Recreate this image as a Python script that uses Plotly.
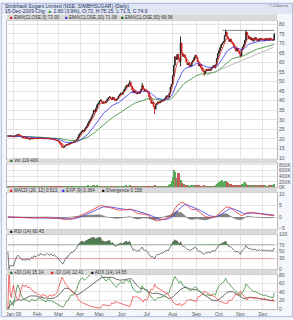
import numpy as np
import pandas as pd
import plotly.graph_objects as go

# ---------------- data ----------------
holidays = ['2008-12-25', '2009-01-08', '2009-02-23', '2009-03-10', '2009-03-11', '2009-03-26',
            '2009-04-03', '2009-04-07', '2009-04-10', '2009-04-14', '2009-04-30', '2009-05-01',
            '2009-09-21', '2009-09-28', '2009-10-02', '2009-10-13', '2009-10-19', '2009-11-02']
dates = pd.bdate_range('2008-12-24', '2009-12-15', freq='C', holidays=holidays)

closes = [
    21.5, 21.3, 21.6, 21.4, 21.2,
    21.0, 21.4, 21.8, 22.1, 22.3, 21.9, 21.5, 21.0, 20.6, 20.8, 20.4, 20.2, 20.5, 20.0, 19.8, 20.1, 20.3, 20.0, 20.4, 20.2, 20.1,
    20.3, 20.5, 20.2, 20.6, 20.4, 20.1, 20.3, 20.0, 20.2, 20.4, 20.1, 19.9, 20.2, 19.8, 19.6, 19.8, 19.4, 19.2, 19.0,
    18.4, 17.6, 16.8, 16.0, 15.6, 16.2, 16.6, 17.0, 16.8, 17.4, 17.8, 18.2, 18.0, 18.4, 18.8, 19.2, 19.6, 20.8, 22.2,
    23.0, 23.8, 24.5, 24.0, 25.2, 26.0, 26.8, 28.2, 29.4, 30.4, 31.5, 33.0, 35.0, 34.2, 36.0, 37.8, 38.6,
    39.8, 40.4, 39.2, 38.6, 39.4, 38.8, 39.6, 40.8, 41.6, 42.0, 41.2, 40.6, 41.8, 40.8, 40.0, 40.6, 41.2, 42.4, 43.2, 44.0,
    43.4, 44.6, 45.8, 47.0, 48.2, 47.4, 48.8, 49.6, 47.6, 45.8, 44.2, 45.2, 44.0, 43.6, 44.4, 43.8, 44.8, 46.0, 47.8, 46.2, 45.0, 45.6,
    45.0, 44.2, 42.0, 40.4, 38.6, 39.2, 37.0, 35.6, 37.8, 38.6, 39.4, 38.8, 39.6, 40.2, 39.8, 40.4, 41.2, 42.0, 42.6, 41.8, 44.0, 47.2, 48.6,
    53.0, 58.5, 63.0, 61.5, 64.2, 62.0, 60.5, 70.2, 65.0, 63.2, 64.0, 62.4, 60.2, 58.8, 59.6, 57.8, 58.4, 60.2, 61.0, 62.6, 63.8,
    62.8, 60.4, 58.2, 59.0, 57.2, 56.0, 55.4, 54.0, 55.6, 56.4, 55.8, 56.6, 55.8, 56.8, 57.6, 58.4, 57.2, 58.8, 62.0, 64.6,
    66.2, 67.8, 69.4, 70.2, 71.0, 74.0, 76.0, 73.6, 72.4, 71.0, 72.2, 70.6, 69.8, 68.4, 67.2, 66.0, 67.4, 65.8, 64.6,
    63.4, 66.8, 68.2, 69.4, 71.6, 75.8, 74.2, 72.6, 73.4, 71.8, 72.8, 71.2, 72.4, 73.0, 71.6, 72.2, 71.4, 72.6, 71.8, 72.4,
    72.0, 71.4, 72.6, 71.8, 72.4, 71.6, 72.8, 72.2, 71.6, 72.1, 74.9,
]

volumes_k = [
    8, 6, 9, 7, 5,
    10, 12, 9, 15, 18, 11, 8, 9, 7, 10, 8, 6, 9, 7, 8, 10, 6, 7, 9, 8, 6,
    7, 9, 6, 8, 7, 5, 9, 6, 8, 7, 6, 8, 5, 7, 6, 9, 8, 10, 12,
    14, 18, 22, 25, 16, 12, 10, 14, 11, 9, 12, 13, 10, 15, 14, 18, 20, 30, 42,
    48, 40, 35, 30, 42, 38, 45, 55, 50, 46, 52, 60, 75, 48, 52, 58, 45,
    40, 38, 30, 28, 35, 30, 32, 40, 36, 34, 30, 28, 32, 26, 24, 30, 35, 40, 45, 38,
    35, 40, 48, 50, 55, 42, 52, 60, 45, 38, 32, 30, 28, 26, 30, 28, 34, 40, 52, 36, 30, 28,
    30, 28, 34, 40, 45, 38, 50, 58, 40, 32, 30, 26, 28, 25, 24, 28, 30, 34, 38, 32, 55, 120, 210,
    370, 620, 540, 320, 300, 480, 500, 250, 150, 120, 100, 85, 70, 60, 75, 50, 55, 65, 70, 80, 90,
    75, 60, 55, 48, 52, 45, 50, 60, 48, 42, 40, 38, 42, 36, 40, 45, 40, 55, 110, 150,
    180, 160, 200, 240, 190, 230, 210, 170, 140, 120, 100, 110, 90, 85, 80, 75, 90, 70, 65,
    80, 95, 110, 140, 170, 120, 90, 75, 85, 70, 80, 65, 70, 75, 60, 55, 65, 60, 55, 50,
    55, 50, 60, 45, 50, 55, 48, 60, 50, 70, 119.4,
]

open_override = {236: 72.0}
wick_high = {108: 50.6, 119: 49.2, 153: 73.6, 193: 77.2, 211: 77.0, 236: 75.15}
wick_low = {48: 15.2, 130: 33.0, 153: 58.0, 174: 53.0, 206: 62.6, 236: 71.5}

month_labels = ['Jan 09', 'Feb', 'Mar', 'Apr', 'May', 'Jun', 'Jul', 'Aug', 'Sep', 'Oct', 'Nov', 'Dec']

# drawn trend lines: (index0, value0, index1, value1, colour)
trend_lines = [(190, 76.8, 236, 76.8, '#666666'), (176, 53.3, 235, 67.9, '#aaaaaa')]

title_text = "Simbhaoli Sugars Limited (NSE: SIMBHSUGAR) (Daily)"
sub_text = ("15-Dec-2009 Chg: <span style='color:#1f9a1f'>▲</span> 2.80 (3.9%), "
            "O:72, H:75.15, L:71.5, C:74.9")

# ---------------- derived ----------------
n = len(closes)
x = np.arange(n)
c = np.array(closes, dtype=float)
o = np.concatenate([[c[0]], c[:-1]])
for k, v in open_override.items():
    o[k] = v
h = np.maximum(o, c)
l = np.minimum(o, c)
for k, v in wick_high.items():
    h[k] = max(h[k], v)
for k, v in wick_low.items():
    l[k] = min(l[k], v)

C = pd.Series(c)
ema5 = C.ewm(span=5, adjust=False).mean()
ema20 = C.ewm(span=20, adjust=False).mean()
ema50 = C.ewm(span=50, adjust=False).mean()
macd = C.ewm(span=12, adjust=False).mean() - C.ewm(span=26, adjust=False).mean()
sig = macd.ewm(span=9, adjust=False).mean()
div = macd - sig

d = C.diff()
ag = d.clip(lower=0).ewm(alpha=1 / 14, adjust=False).mean()
al = (-d.clip(upper=0)).ewm(alpha=1 / 14, adjust=False).mean()
rsi = (100 - 100 / (1 + ag / al.replace(0, np.nan))).fillna(50)

H = pd.Series(h); L = pd.Series(l)
pc = C.shift(1)
tr = pd.concat([H - L, (H - pc).abs(), (L - pc).abs()], axis=1).max(axis=1)
up = H - H.shift(1); dn = L.shift(1) - L
pdm = pd.Series(np.where((up > dn) & (up > 0), up, 0.0))
mdm = pd.Series(np.where((dn > up) & (dn > 0), dn, 0.0))
atr = tr.ewm(alpha=1 / 14, adjust=False).mean()
pdi = (100 * pdm.ewm(alpha=1 / 14, adjust=False).mean() / atr).fillna(0)
mdi = (100 * mdm.ewm(alpha=1 / 14, adjust=False).mean() / atr).fillna(0)
dx = (100 * (pdi - mdi).abs() / (pdi + mdi)).fillna(0)
adx = dx.ewm(alpha=1 / 14, adjust=False).mean()

vol = np.array(volumes_k) * 1000
vol_col = ['#5aa85a' if c[i] >= o[i] else '#c85a5a' for i in range(n)]

tickvals, ticktext = [], []
mi = 0
for i, dt in enumerate(dates[:n]):
    if dt.year == 2009 and dt.month == mi + 1:
        tickvals.append(i); ticktext.append(month_labels[mi]); mi += 1
        if mi >= 12:
            break

# ---------------- figure ----------------
W, Hh = 293, 320
def py(p):
    return 1 - p / Hh

X0, X1 = 6 / W, 277 / W
panels = {
    'y': (18, 158.5), 'y2': (163.5, 188), 'y3': (193.5, 230), 'y4': (236, 271), 'y5': (277, 312)
}
headers = [(11.5, 18), (158.5, 163.5), (188.5, 193.5), (230.5, 236), (271.5, 277)]

fig = go.Figure()
fig.add_trace(go.Candlestick(x=x, open=o, high=h, low=l, close=c, xaxis='x', yaxis='y',
                             increasing=dict(line=dict(color='#222222', width=1), fillcolor='#222222'),
                             decreasing=dict(line=dict(color='#cc2020', width=1), fillcolor='#cc2020'),
                             whiskerwidth=0, showlegend=False, hoverinfo='skip'))
for s_, col in [(ema50, '#2e8b2e'), (ema20, '#3030e0'), (ema5, '#e02020')]:
    fig.add_trace(go.Scatter(x=x, y=s_, mode='lines', line=dict(color=col, width=0.8),
                             xaxis='x', yaxis='y', showlegend=False))
for (i0, v0, i1, v1, col) in trend_lines:
    fig.add_trace(go.Scatter(x=[i0, i1], y=[v0, v1], mode='lines', line=dict(color=col, width=0.8),
                             xaxis='x', yaxis='y', showlegend=False))

fig.add_trace(go.Bar(x=x, y=vol, marker=dict(color=vol_col, line=dict(width=0)), width=0.9,
                     xaxis='x2', yaxis='y2', showlegend=False))

fig.add_trace(go.Scatter(x=x, y=div, mode='lines', fill='tozeroy', fillcolor='rgba(110,110,110,0.85)',
                         line=dict(color='#777777', width=0.5), xaxis='x3', yaxis='y3', showlegend=False))
fig.add_trace(go.Scatter(x=x, y=sig, mode='lines', line=dict(color='#3a3ae8', width=0.8),
                         xaxis='x3', yaxis='y3', showlegend=False))
fig.add_trace(go.Scatter(x=x, y=macd, mode='lines', line=dict(color='#e83030', width=0.8),
                         xaxis='x3', yaxis='y3', showlegend=False))

fig.add_trace(go.Scatter(x=x, y=np.full(n, 70.0), mode='lines', line=dict(color='#8aa88a', width=0.8),
                         xaxis='x4', yaxis='y4', showlegend=False))
fig.add_trace(go.Scatter(x=x, y=np.maximum(rsi, 70), mode='lines', fill='tonexty', fillcolor='#4f7f4f',
                         line=dict(width=0), xaxis='x4', yaxis='y4', showlegend=False))
fig.add_trace(go.Scatter(x=x, y=np.full(n, 30.0), mode='lines', line=dict(color='#e89090', width=0.8),
                         xaxis='x4', yaxis='y4', showlegend=False))
fig.add_trace(go.Scatter(x=x, y=rsi, mode='lines', line=dict(color='#555555', width=0.8),
                         xaxis='x4', yaxis='y4', showlegend=False))

for s_, col in [(adx, '#444444'), (pdi, '#3a8a3a'), (mdi, '#f04848')]:
    fig.add_trace(go.Scatter(x=x, y=s_, mode='lines', line=dict(color=col, width=0.8),
                             xaxis='x5', yaxis='y5', showlegend=False))

xr = [-0.8, n + 1.5]
axfont = dict(family='Liberation Sans, Arial', size=5, color='#555555')
common_x = dict(range=xr, showgrid=True, gridcolor='#e4e4e4', gridwidth=1, tickvals=tickvals,
                ticktext=ticktext, showline=True, linecolor='#bbbbbb', mirror=True, zeroline=False,
                ticks='', tickfont=axfont, rangeslider=dict(visible=False))
yinfo = {
    'y': dict(range=[9.7, 81.9], tickvals=list(range(10, 81, 5))),
    'y2': dict(range=[0, 850000], tickvals=[0, 200000, 400000, 600000, 800000],
               ticktext=['0K', '200K', '400K', '600K', '800K']),
    'y3': dict(range=[-5, 10.4], tickvals=[-5, 0, 5, 10]),
    'y4': dict(range=[0, 100], tickvals=[0, 30, 50, 70, 100]),
    'y5': dict(range=[0, 80], tickvals=[0, 20, 40, 60, 80]),
}
layout = dict(width=W, height=Hh, margin=dict(l=0, r=0, t=0, b=0),
              paper_bgcolor='#f4f6fb', plot_bgcolor='white', showlegend=False,
              bargap=0, font=dict(family='Liberation Sans, Arial', size=5, color='#333333'))
for k, yk in enumerate(['y', 'y2', 'y3', 'y4', 'y5']):
    xk = 'x' if k == 0 else 'x%d' % (k + 1)
    xa = dict(common_x, domain=[X0, X1], anchor=yk, showticklabels=(k == 4))
    if k > 0:
        xa['matches'] = 'x'
    layout['xaxis' if k == 0 else 'xaxis%d' % (k + 1)] = xa
    t, b = panels[yk]
    ya = dict(domain=[py(b), py(t)], anchor=xk, side='right', showgrid=True, gridcolor='#e4e4e4',
              zeroline=False, showline=True, linecolor='#bbbbbb', mirror=True, ticks='',
              tickfont=axfont, **yinfo[yk])
    layout['yaxis' if k == 0 else 'yaxis%d' % (k + 1)] = ya
fig.update_layout(**layout)

shapes = [dict(type='rect', xref='paper', yref='paper', x0=0, x1=1, y0=py(11), y1=1,
               fillcolor='#dfe5f3', line=dict(width=0), layer='below')]
for (t, b) in headers:
    shapes.append(dict(type='rect', xref='paper', yref='paper', x0=X0, x1=X1, y0=py(b), y1=py(t),
                       fillcolor='#dadada', line=dict(width=0)))
shapes.append(dict(type='rect', xref='paper', yref='paper', x0=0.001, x1=0.999, y0=0.001, y1=0.999,
                   line=dict(color='#a9b9d9', width=1)))
fig.update_layout(shapes=shapes)

def sq(col):
    return "<span style='color:%s'>■</span> " % col

header_items = [
    ((11.5 + 18) / 2, [(7, sq('#e02020') + 'EMA(CLOSE,5) 72.00'), (62, sq('#3030e0') + 'EMA(CLOSE,20) 71.08'),
                       (118, sq('#1c5a1c') + 'EMA(CLOSE,50) 69.96')]),
    ((158.5 + 163.5) / 2, [(7, sq('#2e6b2e') + 'Vol 119.40K')]),
    ((188.5 + 193.5) / 2, [(7, sq('#e02020') + 'MACD (26, 12) 0.522'), (59, sq('#3030e0') + 'EXP (9) 0.364'),
                           (99, sq('#111111') + 'Divergence 0.158')]),
    ((230.5 + 236) / 2, [(7, sq('#111111') + 'RSI (14) 60.45')]),
    ((271.5 + 277) / 2, [(7, sq('#2e6b2e') + '+DI (14) 15.14'), (48, sq('#e02020') + '-DI (14) 12.41'),
                         (88, sq('#111111') + 'ADX (14) 14.65')]),
]
ann = []
for yc, items in header_items:
    for xpx, txt in items:
        ann.append(dict(xref='paper', yref='paper', x=xpx / W, y=py(yc), text=txt, showarrow=False,
                        xanchor='left', yanchor='middle', font=dict(size=4.6, color='#333333')))
ann.append(dict(xref='paper', yref='paper', x=2 / W, y=py(3), text=title_text, showarrow=False,
                xanchor='left', yanchor='middle', font=dict(size=5, color='#1d2d5a')))
ann.append(dict(xref='paper', yref='paper', x=2 / W, y=py(8), text=sub_text, showarrow=False,
                xanchor='left', yanchor='middle', font=dict(size=5, color='#1d2d5a')))
ann.append(dict(xref='paper', yref='paper', x=290 / W, y=py(2.5), text='© iChart.in', showarrow=False,
                xanchor='right', yanchor='middle', font=dict(size=4, color='#555555')))
fig.update_layout(annotations=ann)

fig.write_html("out.html")
